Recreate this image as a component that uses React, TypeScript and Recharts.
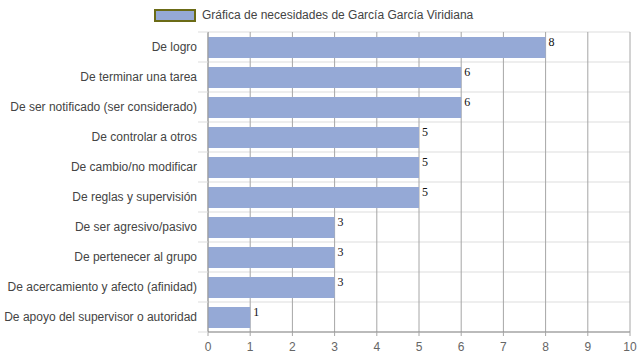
import { BarChart, Bar, XAxis, YAxis, CartesianGrid, LabelList } from "recharts";

const categories = [
  "De logro",
  "De terminar una tarea",
  "De ser notificado (ser considerado)",
  "De controlar a otros",
  "De cambio/no modificar",
  "De reglas y supervisión",
  "De ser agresivo/pasivo",
  "De pertenecer al grupo",
  "De acercamiento y afecto (afinidad)",
  "De apoyo del supervisor o autoridad",
];
const values = [8, 6, 6, 5, 5, 5, 3, 3, 3, 1];
const xTicks = [0, 1, 2, 3, 4, 5, 6, 7, 8, 9, 10];
const seriesName = "Gráfica de necesidades de García García Viridiana";

const data = categories.map((name, i) => ({ name, value: values[i] }));

const W = 639;
const H = 360;
const TOP = 32;
const X_AXIS_H = 28;
const Y_AXIS_W = 208;
const ROW_H = (H - TOP - X_AXIS_H) / categories.length;

const FONT = "'Liberation Sans', Arial, sans-serif";
const SERIF = "'Liberation Serif', 'Times New Roman', 'DejaVu Serif', serif";
const BAR = "#95a9d6";
const ROW_LINE = "#dddddd";

// row separators sit on band edges, not on the category centres
const rowEdges = ({ offset }: any) =>
  [...categories.map((_, i) => i), categories.length].map((i) => offset.top + (i * offset.height) / categories.length);

const CategoryTick = (props: any) => {
  const { x, y, payload, index } = props;
  return (
    <g>
      <line x1={Y_AXIS_W - 10} x2={Y_AXIS_W} y1={y - ROW_H / 2} y2={y - ROW_H / 2} stroke={ROW_LINE} />
      {index === categories.length - 1 && (
        <line x1={Y_AXIS_W - 10} x2={Y_AXIS_W} y1={y + ROW_H / 2} y2={y + ROW_H / 2} stroke={ROW_LINE} />
      )}
      <text x={x} y={y} dy={4} textAnchor="end" style={{ fontFamily: FONT, fontSize: 12, fill: "#444" }}>
        {payload.value}
      </text>
    </g>
  );
};

const ValueLabel = (props: any) => {
  const { x, y, width, value } = props;
  return (
    <text x={x + width + 3} y={y + 8.5} style={{ fontFamily: SERIF, fontSize: 12, fill: "#111" }}>
      {value}
    </text>
  );
};

const App = () => (
  <div style={{ position: "absolute", left: 0, top: 0, width: W, height: H, background: "#fff" }}>
    <div
      style={{
        position: "absolute", left: 154, top: 8, height: 14, display: "flex", alignItems: "center",
        fontFamily: FONT, fontSize: 12, color: "#444", lineHeight: "14px",
      }}
    >
      <span style={{ display: "inline-block", width: 38, height: 9, background: BAR, border: "2px solid #6b6b16", marginRight: 6 }} />
      {seriesName}
    </div>
    <BarChart
      width={W}
      height={H}
      data={data}
      layout="vertical"
      margin={{ top: TOP, right: 9, bottom: 0, left: 0 }}
      barSize={21}
    >
      <CartesianGrid vertical={false} stroke={ROW_LINE} horizontalCoordinatesGenerator={rowEdges} />
      <CartesianGrid horizontal={false} stroke="#a6a6a6" />
      <YAxis
        type="category"
        dataKey="name"
        width={Y_AXIS_W}
        axisLine={{ stroke: "#999" }}
        tickLine={false}
        tickMargin={5}
        interval={0}
        tick={CategoryTick}
      />
      <XAxis
        type="number"
        domain={[0, 10]}
        ticks={xTicks}
        height={X_AXIS_H}
        tickSize={4}
        tickMargin={6}
        interval={0}
        axisLine={{ stroke: "#888" }}
        tickLine={{ stroke: "#a6a6a6" }}
        tick={{ fontSize: 12, fill: "#666", fontFamily: FONT }}
      />
      <Bar dataKey="value" fill={BAR} isAnimationActive={false}>
        <LabelList dataKey="value" content={ValueLabel} />
      </Bar>
    </BarChart>
  </div>
);

export default App;
